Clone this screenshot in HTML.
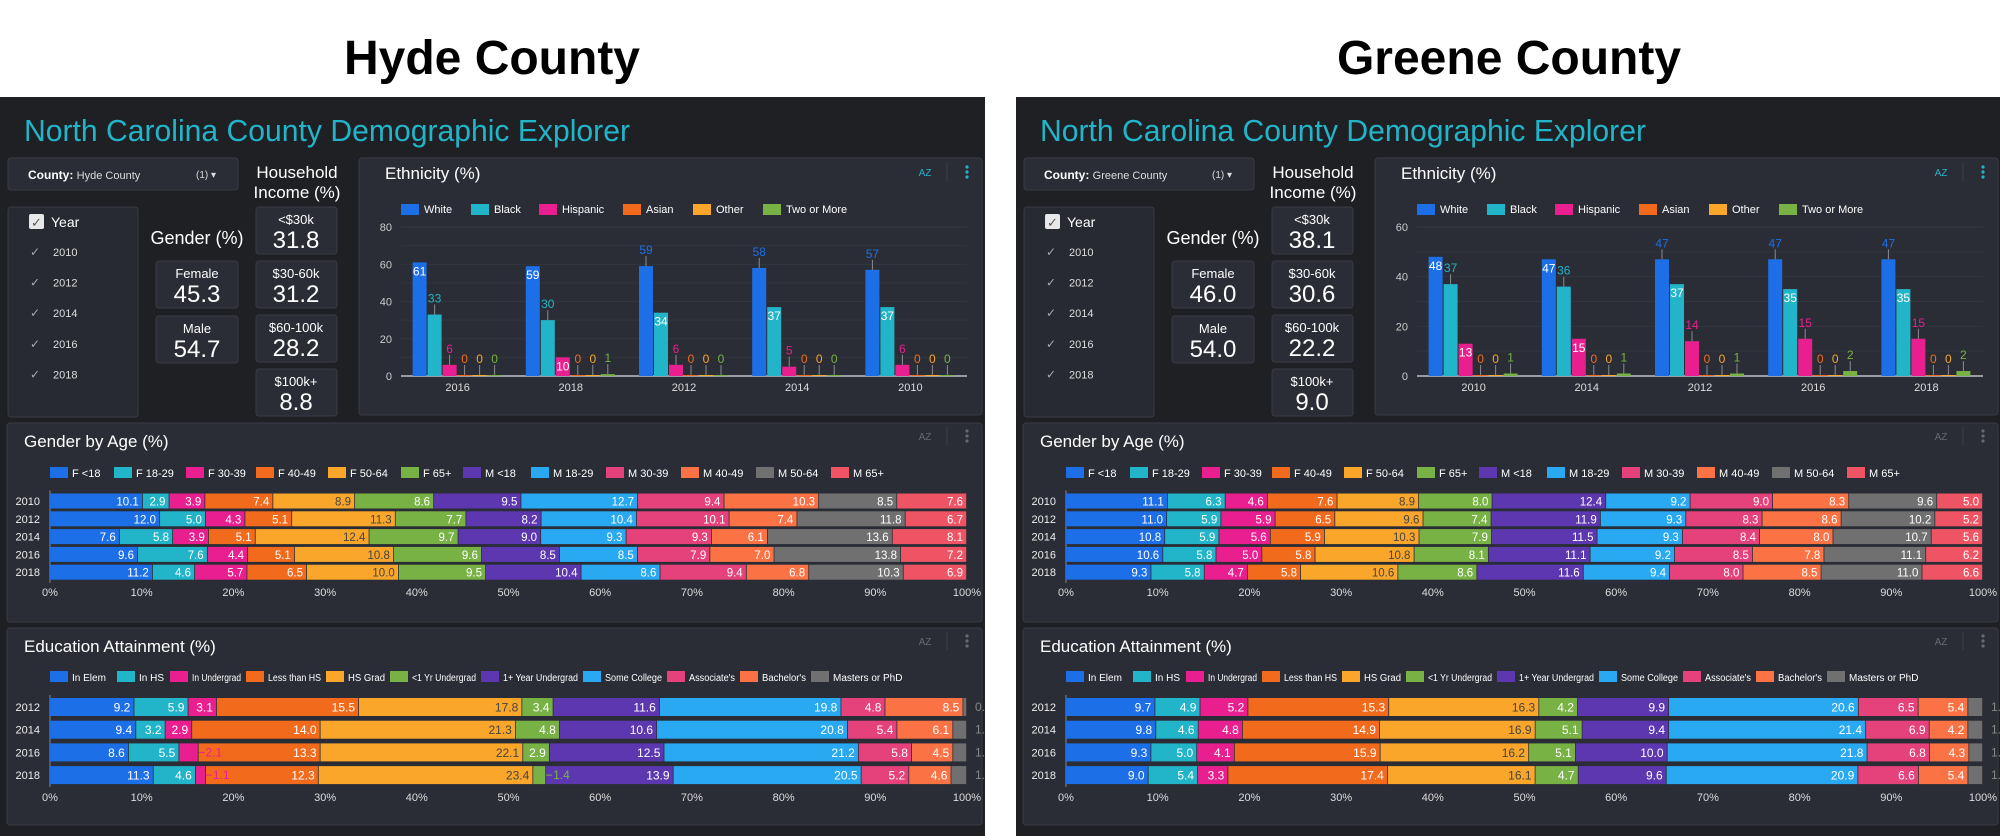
<!DOCTYPE html>
<html><head><meta charset="utf-8">
<style>
html,body{margin:0;padding:0;background:#fff;}
svg{display:block;font-family:"Liberation Sans",sans-serif;}
</style></head>
<body>
<svg id="root" width="2000" height="836" viewBox="0 0 2000 836"></svg>
<script>
// ---------- DATA ----------
const hydeEthCategories = ['2016','2018','2012','2014','2010'];
const hydeWhite = [61,59,59,58,57];
const hydeBlack = [33,30,34,37,37];
const hydeHispanic = [6,10,6,5,6];
const hydeAsian = [0,0,0,0,0];
const hydeOther = [0,0,0,0,0];
const hydeTwo = [0,1,0,0,0];
const hydeEthTicks = [0,20,40,60,80];

const greeneEthCategories = ['2010','2014','2012','2016','2018'];
const greeneWhite = [48,47,47,47,47];
const greeneBlack = [37,36,37,35,35];
const greeneHispanic = [13,15,14,15,15];
const greeneAsian = [0,0,0,0,0];
const greeneOther = [0,0,0,0,0];
const greeneTwo = [1,1,1,2,2];
const greeneEthTicks = [0,20,40,60];

const yearList = ['2010','2012','2014','2016','2018'];
const hydeGender = ['45.3','54.7'];
const greeneGender = ['46.0','54.0'];
const incomeLabels = ['<$30k','$30-60k','$60-100k','$100k+'];
const hydeIncome = ['31.8','31.2','28.2','8.8'];
const greeneIncome = ['38.1','30.6','22.2','9.0'];

const ageSeries = ['F <18','F 18-29','F 30-39','F 40-49','F 50-64','F 65+','M <18','M 18-29','M 30-39','M 40-49','M 50-64','M 65+'];
const ageYears = ['2010','2012','2014','2016','2018'];
const hydeAge2010 = [10.1,2.9,3.9,7.4,8.9,8.6,9.5,12.7,9.4,10.3,8.5,7.6];
const hydeAge2012 = [12.0,5.0,4.3,5.1,11.3,7.7,8.2,10.4,10.1,7.4,11.8,6.7];
const hydeAge2014 = [7.6,5.8,3.9,5.1,12.4,9.7,9.0,9.3,9.3,6.1,13.6,8.1];
const hydeAge2016 = [9.6,7.6,4.4,5.1,10.8,9.6,8.5,8.5,7.9,7.0,13.8,7.2];
const hydeAge2018 = [11.2,4.6,5.7,6.5,10.0,9.5,10.4,8.6,9.4,6.8,10.3,6.9];
const greeneAge2010 = [11.1,6.3,4.6,7.6,8.9,8.0,12.4,9.2,9.0,8.3,9.6,5.0];
const greeneAge2012 = [11.0,5.9,5.9,6.5,9.6,7.4,11.9,9.3,8.3,8.6,10.2,5.2];
const greeneAge2014 = [10.8,5.9,5.6,5.9,10.3,7.9,11.5,9.3,8.4,8.0,10.7,5.6];
const greeneAge2016 = [10.6,5.8,5.0,5.8,10.8,8.1,11.1,9.2,8.5,7.8,11.1,6.2];
const greeneAge2018 = [9.3,5.8,4.7,5.8,10.6,8.6,11.6,9.4,8.0,8.5,11.0,6.6];

const eduSeries = ['In Elem','In HS','In Undergrad','Less than HS','HS Grad','<1 Yr Undergrad','1+ Year Undergrad','Some College',"Associate's","Bachelor's",'Masters or PhD'];
const eduYears = ['2012','2014','2016','2018'];
const hydeEdu2012 = [9.2,5.9,3.1,15.5,17.8,3.4,11.6,19.8,4.8,8.5,0.4];
const hydeEdu2014 = [9.4,3.2,2.9,14.0,21.3,4.8,10.6,20.8,5.4,6.1,1.5];
const hydeEdu2016 = [8.6,5.5,2.1,13.3,22.1,2.9,12.5,21.2,5.8,4.5,1.5];
const hydeEdu2018 = [11.3,4.6,1.1,12.3,23.4,1.4,13.9,20.5,5.2,4.6,1.7];
const greeneEdu2012 = [9.7,4.9,5.2,15.3,16.3,4.2,9.9,20.6,6.5,5.4,1.6];
const greeneEdu2014 = [9.8,4.6,4.8,14.9,16.9,5.1,9.4,21.4,6.9,4.2,1.6];
const greeneEdu2016 = [9.3,5.0,4.1,15.9,16.2,5.1,10.0,21.8,6.8,4.3,1.5];
const greeneEdu2018 = [9.0,5.4,3.3,17.4,16.1,4.7,9.6,20.9,6.6,5.4,1.6];

const ethSeries = ['White','Black','Hispanic','Asian','Other','Two or More'];
const pctTicks = [0,10,20,30,40,50,60,70,80,90,100];

// ---------- STYLE ----------
const ethColors = ['#1d6fe8','#22b4c8','#ea1f8f','#f26b1d','#f9a62a','#78b245'];
const ageColors = ['#1d6fe8','#22b4c8','#ea1f8f','#f26b1d','#f9a62a','#78b245','#5d37b0','#28a9f1','#e5417a','#fb7245','#707070','#ee5464'];
const eduColors = ['#1d6fe8','#22b4c8','#ea1f8f','#f26b1d','#f9a62a','#78b245','#5d37b0','#28a9f1','#e5417a','#fb7245','#707070'];
const TEAL = '#22b4c8', CARD = '#2a2d35', STROKE = '#393c45', PANEL = '#1f2024';

const NS = 'http://www.w3.org/2000/svg';
const root = document.getElementById('root');
function mk(tag, attrs, parent){ const e = document.createElementNS(NS, tag); for (const k in attrs) e.setAttribute(k, attrs[k]); parent.appendChild(e); return e; }
function tx(str, attrs, parent){ const e = mk('text', attrs, parent); e.textContent = str; return e; }
function fit(e, avail){ try { if (e.getComputedTextLength() > avail) { e.setAttribute('textLength', avail); e.setAttribute('lengthAdjust', 'spacingAndGlyphs'); } } catch(err) {} }

function header(label, cx){
  const t = tx(label, {x:cx, y:74, 'text-anchor':'middle', 'font-size':48, 'font-weight':'bold', fill:'#000'}, root);
  
  
}
header('Hyde County', 492);
header('Greene County', 1509);

function icons(g, x, y, active){
  const c = active ? TEAL : '#666a72';
  const a = tx('AZ', {x:x, y:y+4, 'font-size':10, fill:c, 'text-anchor':'middle'}, g);
  
  
  const sep = mk('line', {x1:x+22, y1:y-9, x2:x+22, y2:y+9, stroke:'#3b3f48'}, g);
  
  
  for (let i=0;i<3;i++){
    const d = mk('circle', {cx:x+42, cy:y-5+i*5, r:1.6, fill:c}, g);
    
    
  }
}

function card(g, x, y, w, h, name, fill){
  const r = mk('rect', {x:x, y:y, width:w, height:h, rx:3, fill:fill||CARD, stroke:STROKE}, g);
  
  
  return r;
}

function buildPanel(ox, county, gender, income, cats, eth, ticks, maxV, age, edu, clipId){
  const clip = mk('clipPath', {id:clipId}, root);
  mk('rect', {x:0, y:97, width:985, height:739}, clip);
  const g = mk('g', {transform:'translate('+ox+',0)', 'clip-path':'url(#'+clipId+')'}, root);
  
  
  const bg = mk('rect', {x:0, y:97, width:985, height:739, fill:PANEL}, g);
  
  
  const title = tx('North Carolina County Demographic Explorer', {x:24, y:141, 'font-size':31, fill:TEAL, textLength:606, lengthAdjust:'spacingAndGlyphs'}, g);
  
  

  const dd = card(g, 8, 158, 230, 32, 'county-dropdown');
  
  const ddt = tx('', {x:28, y:179, 'font-size':12, fill:'#fff'}, g);
  
  
  const b = mk('tspan', {'font-weight':'bold'}, ddt); b.textContent = 'County: ';
  const n = mk('tspan', {'font-size':11, fill:'#ddd'}, ddt); n.textContent = county;
  const cnt = tx('(1) \u25BE', {x:196, y:178, 'font-size':10, fill:'#ddd'}, g);
  
  

  card(g, 8, 207, 130, 210, 'year-filter', '#272a31');
  const cb = mk('rect', {x:29, y:214, width:15, height:15, rx:2, fill:'#e8e8e8'}, g);
  
  
  const cbm = tx('\u2713', {x:31, y:227, 'font-size':13, fill:'#555'}, g);
  
  
  const yh = tx('Year', {x:51, y:227, 'font-size':14, fill:'#fff'}, g);
  
  
  yearList.forEach((yr,i)=>{
    const yy = 256 + i*30.6;
    const ck = tx('\u2713', {x:30, y:yy, 'font-size':12, fill:'#aaa'}, g);
    
    
    const yl = tx(yr, {x:53, y:yy, 'font-size':11, fill:'#ddd'}, g);
    
    
  });

  const gt = tx('Gender (%)', {x:197, y:244, 'font-size':18, fill:'#fff', 'text-anchor':'middle'}, g);
  
  
  ['Female','Male'].forEach((lab,i)=>{
    const y0 = 261 + i*55;
    card(g, 156, y0, 82, 47, 'gender-card');
    const l = tx(lab, {x:197, y:y0+17, 'font-size':13, fill:'#fff', 'text-anchor':'middle'}, g);
    
    
    const v = tx(gender[i], {x:197, y:y0+41, 'font-size':24, fill:'#fff', 'text-anchor':'middle'}, g);
    
    
  });

  const it1 = tx('Household', {x:297, y:178, 'font-size':17, fill:'#fff', 'text-anchor':'middle'}, g);
  
  
  const it2 = tx('Income (%)', {x:297, y:198, 'font-size':17, fill:'#fff', 'text-anchor':'middle'}, g);
  
  
  incomeLabels.forEach((lab,i)=>{
    const y0 = 207 + i*54;
    card(g, 256, y0, 81, 47, 'income-card');
    const l = tx(lab, {x:296, y:y0+17, 'font-size':13, fill:'#fff', 'text-anchor':'middle'}, g);
    
    
    const v = tx(income[i], {x:296, y:y0+41, 'font-size':24, fill:'#fff', 'text-anchor':'middle'}, g);
    
    
  });

  card(g, 359, 158, 623, 257, 'ethnicity-card');
  const et = tx('Ethnicity (%)', {x:385, y:179, 'font-size':17, fill:'#fff'}, g);
  
  
  icons(g, 925, 172, true);
  const legX = [401,471,539,623,693,763];
  ethSeries.forEach((s,i)=>{
    const sw = mk('rect', {x:legX[i], y:204, width:18, height:11, fill:ethColors[i]}, g);
    
    
    const lt = tx(s, {x:legX[i]+23, y:213, 'font-size':11, fill:'#fff'}, g);
    
    
  });
  const pl = 401, pr = 967, py0 = 376, pyTop = 227;
  const yS = v => py0 - v/maxV*(py0-pyTop);
  for (let v=0; v<=maxV; v+=10){
    const gl = mk('line', {x1:pl, x2:pr, y1:yS(v), y2:yS(v), stroke: v===0 ? '#9a9ca2' : '#33363e', 'stroke-width': v===0?2:1}, g);
    
    
  }
  ticks.forEach(v=>{
    const t = tx(String(v), {x:392, y:yS(v)+4, 'font-size':11, fill:'#ccc', 'text-anchor':'end'}, g);
    
    
  });
  const band = (pr-pl)/cats.length, bw = 15;
  cats.forEach((c,i)=>{
    const cx = pl + band*(i+0.5);
    const cl = tx(c, {x:cx, y:391, 'font-size':11, fill:'#ddd', 'text-anchor':'middle'}, g);
    
    
    eth.forEach((series,s)=>{
      const v = series[i];
      const x = cx - bw*3 + s*bw;
      const top = yS(v);
      const h = Math.max(py0-top, 1);
      const bar = mk('rect', {x:x, y:py0-h, width:bw-1, height:h, fill:ethColors[s]}, g);
      
      
      const inside = (s===0 && i<2) || (s===1 && i>=2) || (s===2 && i<2 && v>=10);
      if (inside){
        const lb = tx(String(v), {x:x+bw/2-0.5, y:top+13, 'font-size':12, fill:'#fff', 'text-anchor':'middle'}, g);
        
        
      } else {
        const ln = mk('line', {x1:x+bw/2-0.5, x2:x+bw/2-0.5, y1:py0-h, y2:py0-h-10, stroke:'#8a8c92'}, g);
        
        
        const lb = tx(String(v), {x:x+bw/2-0.5, y:py0-h-12, 'font-size':12, fill:ethColors[s], 'text-anchor':'middle'}, g);
        
        
      }
    });
  });

  function stacked(title, yCard, hCard, series, colors, years, rows, legX, legY, legFont, rowY0, rowPitch, barH, axisY, name, valFont){
    card(g, 7, yCard, 975, hCard, name+'-card');
    const t = tx(title, {x:24, y:yCard+24, 'font-size':17, fill:'#fff'}, g);
    
    
    icons(g, 925, yCard+13, false);
    series.forEach((s,i)=>{
      const sw = mk('rect', {x:legX[i], y:legY-6, width:18, height:11, fill:colors[i]}, g);
      
      
      const lt = tx(s, {x:legX[i]+22, y:legY+4, 'font-size':legFont, fill:'#fff'}, g);
      
      
      const avail = (i < series.length-1 ? legX[i+1] : 960) - legX[i] - 27;
      fit(lt, avail);
    });
    const x0 = 50, x1 = 967;
    const xS = p => x0 + p/100*(x1-x0);
    const ax = mk('line', {x1:x0, x2:x0, y1:rowY0-barH/2-3, y2:rowY0+rowPitch*(years.length-1)+barH/2+3, stroke:'#888'}, g);
    
    
    pctTicks.forEach(p=>{
      const tl = tx(p+'%', {x:xS(p), y:axisY+4, 'font-size':11, fill:'#ddd', 'text-anchor':'middle'}, g);
      
      
    });
    rows.forEach((row,r)=>{
      const cy = rowY0 + r*rowPitch;
      const yl = tx(years[r], {x:40, y:cy+4, 'font-size':11, fill:'#eee', 'text-anchor':'end'}, g);
      
      
      const total = row.reduce((a,b)=>a+b,0);
      let acc = 0;
      const pending = [];
      row.forEach((v,s)=>{
        const xa = xS(acc/total*100), xb = xS((acc+v)/total*100);
        acc += v;
        const seg = mk('rect', {x:xa, y:cy-barH/2, width:Math.max(xb-xa-0.8,0.5), height:barH, fill:colors[s]}, g);
        
        
        pending.push([v, s, xa, xb]);
      });
      pending.forEach(([v, s, xa, xb])=>{
        const w = xb-xa;
        const label = v.toFixed(1);
        if (s === row.length-1 && w < 22){
          const lb = tx(label, {x:x1+8, y:cy+4, 'font-size':valFont, fill:'#888'}, g);
          
          
        } else if (w < 22){
          const ln = mk('line', {x1:xb, x2:xb+6, y1:cy, y2:cy, stroke:colors[s]}, g);
          
          
          const lb = tx(label, {x:xb+7, y:cy+4, 'font-size':valFont, fill:colors[s]}, g);
          
          
        } else {
          const lb = tx(label, {x:xb-4, y:cy+4.5, 'font-size':valFont, fill: colors[s]==='#f9a62a' ? '#444' : '#fff', 'text-anchor':'end'}, g);
          
          
        }
      });
    });
  }
  stacked('Gender by Age (%)', 423, 199, ageSeries, ageColors, ageYears, age,
    [50,114,186,256,328,401,463,531,606,681,756,831], 473, 11, 501, 17.8, 15, 592, 'gender-age', 11.5);
  stacked('Education Attainment (%)', 628, 197, eduSeries, eduColors, eduYears, edu,
    [50,117,170,246,326,390,481,583,667,740,811], 677, 10, 707, 22.7, 18, 797, 'education', 12);
}

buildPanel(0, 'Hyde County', hydeGender, hydeIncome, hydeEthCategories,
  [hydeWhite,hydeBlack,hydeHispanic,hydeAsian,hydeOther,hydeTwo], hydeEthTicks, 80,
  [hydeAge2010,hydeAge2012,hydeAge2014,hydeAge2016,hydeAge2018],
  [hydeEdu2012,hydeEdu2014,hydeEdu2016,hydeEdu2018], 'clipL');
buildPanel(1016, 'Greene County', greeneGender, greeneIncome, greeneEthCategories,
  [greeneWhite,greeneBlack,greeneHispanic,greeneAsian,greeneOther,greeneTwo], greeneEthTicks, 60,
  [greeneAge2010,greeneAge2012,greeneAge2014,greeneAge2016,greeneAge2018],
  [greeneEdu2012,greeneEdu2014,greeneEdu2016,greeneEdu2018], 'clipR');
</script>
</body></html>
